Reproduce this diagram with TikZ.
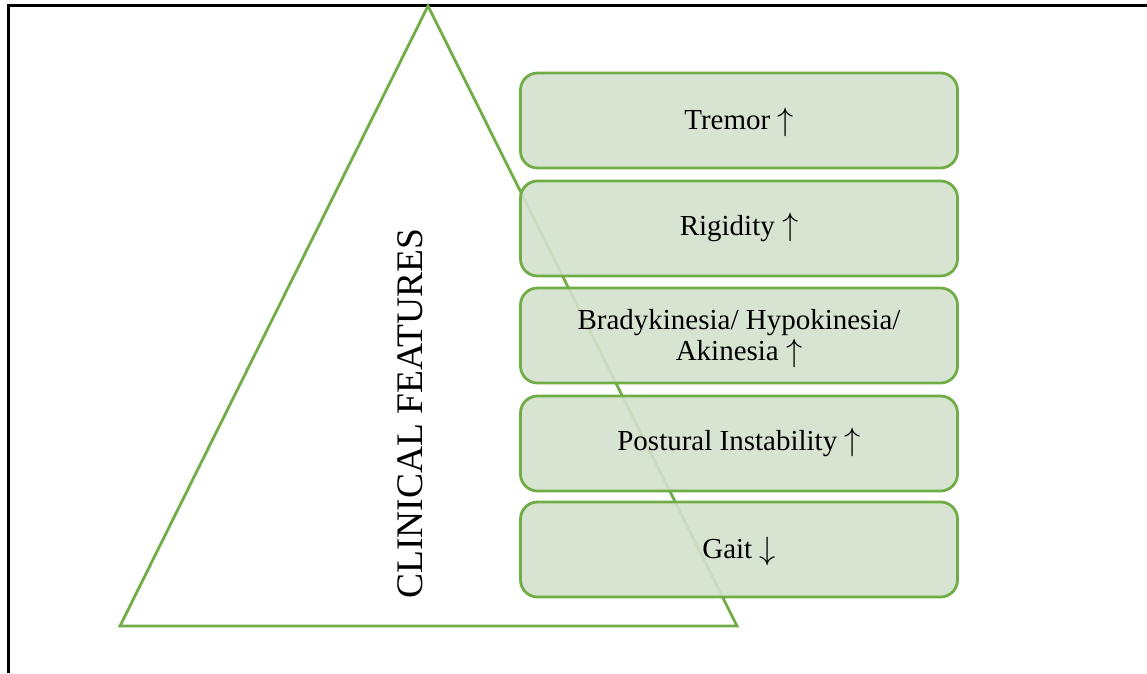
\documentclass[tikz,border=0pt]{standalone}
\usepackage{fontspec}
\setmainfont{Liberation Serif}
\newcommand{\upar}{\smash{\raisebox{-0.5pt}{\scalebox{1.3}{$\uparrow$}}}}
\newcommand{\dnar}{\smash{\raisebox{-0.5pt}{\scalebox{1.3}{$\downarrow$}}}}
\begin{document}
\begin{tikzpicture}[x=1pt,y=-1pt,
  featbox/.style={draw={rgb,255:red,112;green,173;blue,71}, line width=2.8pt,
    fill={rgb,255:red,212;green,225;blue,205}, fill opacity=0.9, text opacity=1,
    rounded corners=17pt, minimum width=437pt, minimum height=95pt,
    align=center, font=\fontsize{29}{31}\selectfont, inner sep=0pt},
  tri/.style={draw={rgb,255:red,112;green,173;blue,71}, line width=2.8pt, line join=miter}]
\useasboundingbox (0,0) rectangle (1147,673);
% frame
\coordinate (fa) at (1147,5.5);
\coordinate (fb) at (8.5,5.5);
\coordinate (fc) at (8.5,673);
\draw[line width=2.2pt, black] (fa) -- (fb) -- (fc);
% triangle
\coordinate (apex) at (428,6);
\coordinate (bl) at (120,626);
\coordinate (br) at (737,626);
\draw[tri] (apex) -- (bl) -- (br) -- cycle;
\node[rotate=90, font=\fontsize{37.5}{40}\selectfont, inner sep=0pt] (cf) at (410,414) {CLINICAL FEATURES};
% boxes
\node[featbox] (b1) at (739,120.5) {Tremor \upar};
\node[featbox] (b2) at (739,228.5) {Rigidity \upar};
\node[featbox] (b3) at (739,335.5) {Bradykinesia/ Hypokinesia/\\Akinesia \upar};
\node[featbox] (b4) at (739,443.5) {Postural Instability \upar};
\node[featbox] (b5) at (739,549.5) {Gait \dnar};
\end{tikzpicture}
\end{document}
